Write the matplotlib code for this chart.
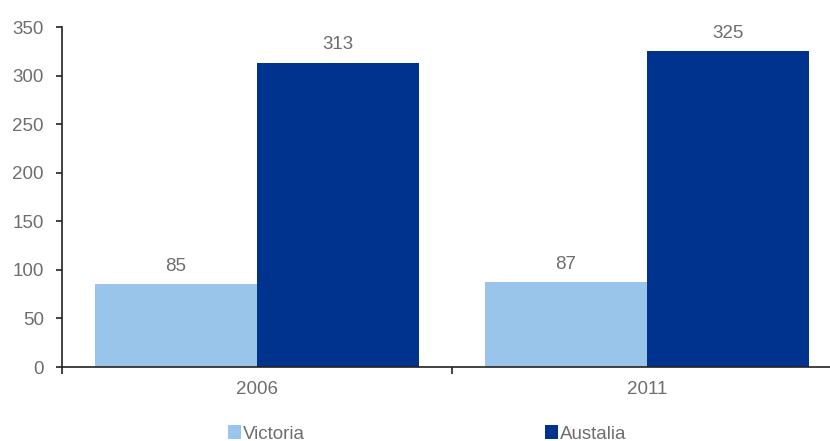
import matplotlib
matplotlib.use("Agg")
import matplotlib.pyplot as plt
import numpy as np
from matplotlib.patches import Patch

plt.rcParams['font.family'] = ['Liberation Sans', 'DejaVu Sans']

years = ["2006", "2011"]
victoria = [85, 87]
australia = [313, 325]
series_names = ["Victoria", "Austalia"]
colors = ["#99c5ea", "#00338d"]
text_grey = "#6d6e71"
fs = 13.5

fig = plt.figure(figsize=(8.30, 4.41), dpi=100)
ax = fig.add_axes([62/830, 1-367/441, 780/830, 340/441])

x = np.arange(len(years))
w = 0.415
b1 = ax.bar(x - w/2, victoria, w, color=colors[0], zorder=2)
b2 = ax.bar(x + w/2, australia, w, color=colors[1], zorder=2)

for bars, vals in ((b1, victoria), (b2, australia)):
    for r, v in zip(bars, vals):
        ax.annotate(f"{v}", (r.get_x() + r.get_width()/2, v),
                    xytext=(0, 7), textcoords="offset points",
                    ha="center", va="bottom", fontsize=fs, color=text_grey)

ax.set_xlim(-0.5, len(years) - 0.5)
ax.set_ylim(0, 350)
ax.set_yticks(np.arange(0, 351, 50))

# category boundaries carry the ticks, labels sit at the category centres
ax.set_xticks(np.arange(-0.5, len(years), 1.0))
ax.set_xticklabels([])
ax.set_xticks(x, minor=True)
ax.set_xticklabels(years, minor=True)
ax.tick_params(axis="x", which="major", length=5, width=1.2, color="#222222", direction="out")
ax.tick_params(axis="x", which="minor", length=0, pad=10, labelsize=fs, labelcolor=text_grey)
ax.tick_params(axis="y", length=4, width=1.2, color="#222222", pad=9,
               labelsize=fs, labelcolor=text_grey)

for s in ("top", "right"):
    ax.spines[s].set_visible(False)
for s in ("left", "bottom"):
    ax.spines[s].set_color("#222222")
    ax.spines[s].set_linewidth(1.2)

handles = [Patch(facecolor=c, edgecolor="none") for c in colors]
fig.legend(handles, series_names, loc="center left", bbox_to_anchor=(228/830, 1-434/441),
           ncol=2, frameon=False, fontsize=fs, labelcolor=text_grey,
           handlelength=0.7, handleheight=0.7, handletextpad=0.1,
           columnspacing=12.8, borderaxespad=0, borderpad=0)

fig.savefig("out.png", dpi=100)
